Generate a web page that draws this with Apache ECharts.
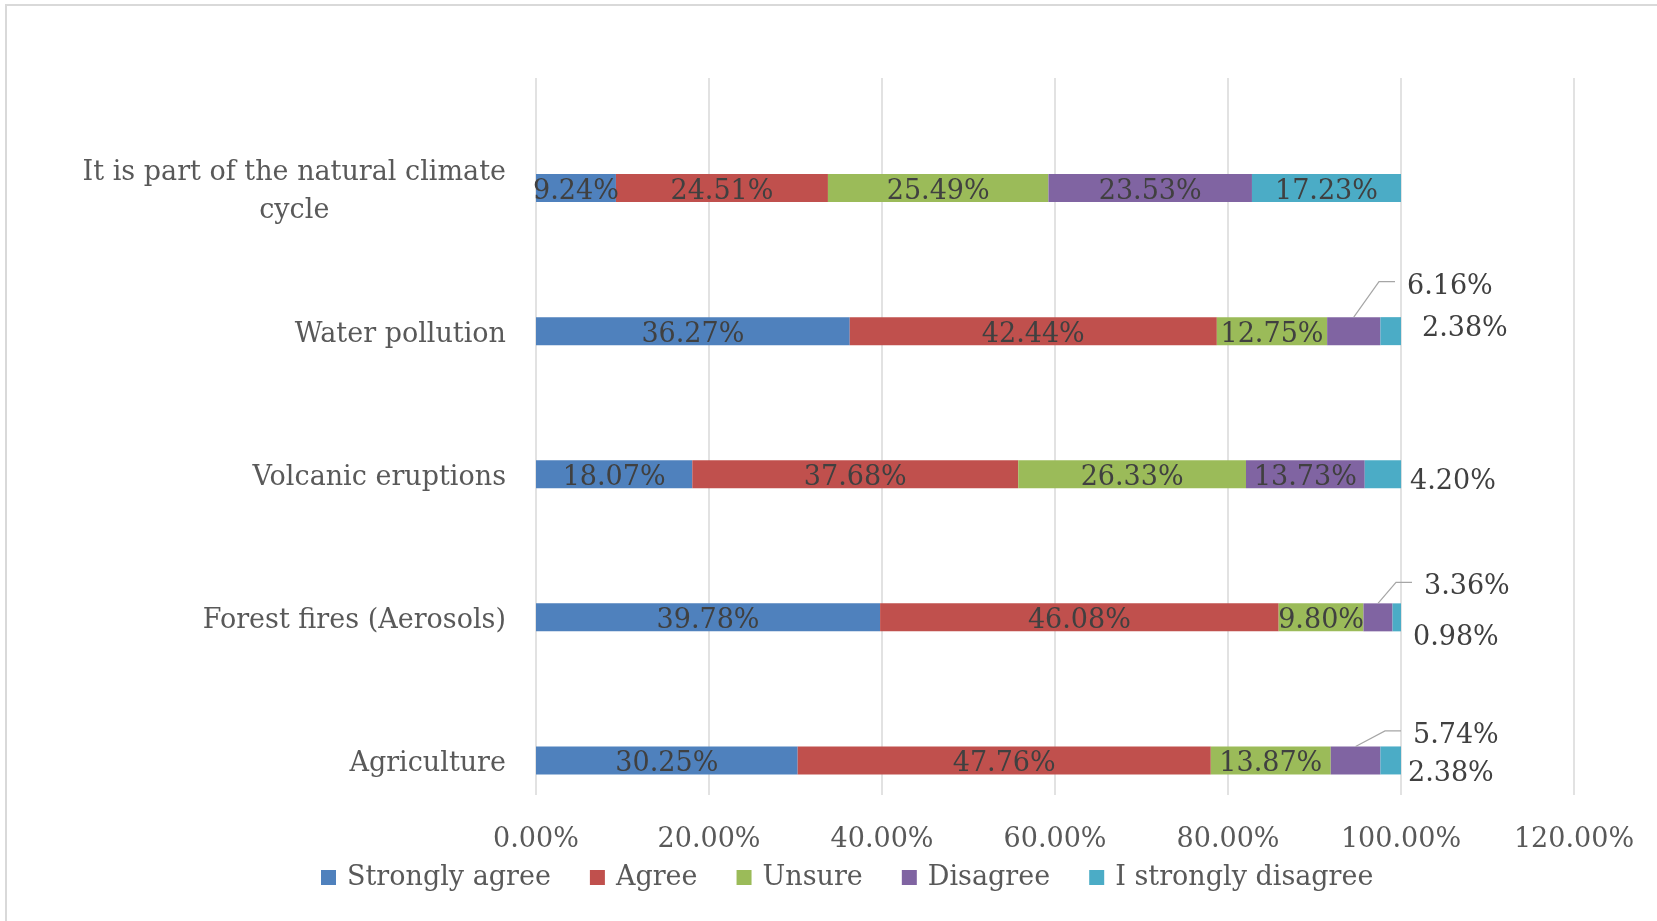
<!DOCTYPE html>
<html>
<head>
<meta charset="utf-8">
<script src="https://cdn.jsdelivr.net/npm/echarts@6/dist/echarts.min.js"></script>
<style>
  html, body { margin: 0; padding: 0; background: #ffffff; }
  #chart { width: 1657px; height: 921px; }
</style>
</head>
<body>
<div id="chart"></div>
<script>
// Survey answers per cause, in percent (stacked to 100%)
const categories = [
  'Agriculture',
  'Forest fires (Aerosols)',
  'Volcanic eruptions',
  'Water pollution',
  'It is part of the natural climate\ncycle'
];
const seriesNames = ['Strongly agree', 'Agree', 'Unsure', 'Disagree', 'I strongly disagree'];
const stronglyAgree    = [30.25, 39.78, 18.07, 36.27, 9.24];
const agree            = [47.76, 46.08, 37.68, 42.44, 24.51];
const unsure           = [13.87, 9.80, 26.33, 12.75, 25.49];
const disagree         = [5.74, 3.36, 13.73, 6.16, 23.53];
const stronglyDisagree = [2.38, 0.98, 4.20, 2.38, 17.23];
const xTicks = [0, 20, 40, 60, 80, 100, 120];

const seriesData = [stronglyAgree, agree, unsure, disagree, stronglyDisagree];
const colors = ['#4F81BD', '#C0504D', '#9BBB59', '#8064A2', '#4BACC6'];

const FONT = "'DejaVu Serif', 'Liberation Serif', serif";
const BAR_WIDTH = 28;
const INSIDE_SHIFT = 4;

// Labels of thin segments sit outside the bar end:
// key "series-row" -> [dx from row end, dy from bar centre, draw leader line]
const outsideLabels = {
  '3-3': [6, -44.5, true],
  '4-3': [21, -2.5],
  '4-2': [9, 7.5],
  '3-1': [23, -30, true],
  '4-1': [12, 21],
  '3-0': [12, -24.5, true],
  '4-0': [7, 13.5]
};

function rowTotal(d) {
  let t = 0;
  for (let j = 0; j < seriesData.length; j++) t += seriesData[j][d];
  return t;
}

function pct(v) { return v.toFixed(2) + '%'; }

const chart = echarts.init(document.getElementById('chart'), null, { renderer: 'canvas' });

const option = {
  backgroundColor: '#ffffff',
  animation: false,
  textStyle: { fontFamily: FONT },
  grid: [
    { left: 536, right: 83, top: 116.5, bottom: 89 },
    { left: 536, right: 83, top: 78, bottom: 126 }
  ],
  legend: {
    data: seriesNames,
    left: 321,
    top: 864,
    padding: 0,
    icon: 'rect',
    itemWidth: 15,
    itemHeight: 15,
    itemGap: 39,
    selectedMode: false,
    textStyle: { fontFamily: FONT, fontSize: 27, color: '#595959', padding: [0, 0, 0, 6] }
  },
  xAxis: [
    { gridIndex: 0, type: 'value', min: xTicks[0], max: xTicks[xTicks.length - 1], interval: xTicks[1] - xTicks[0], show: false },
    {
      gridIndex: 1, type: 'value',
      min: xTicks[0], max: xTicks[xTicks.length - 1], interval: xTicks[1] - xTicks[0],
      axisLine: { show: false },
      axisTick: { show: false },
      splitLine: { show: true, lineStyle: { color: '#d9d9d9', width: 1.5 } },
      axisLabel: {
        formatter: pct,
        fontFamily: FONT, fontSize: 27, color: '#595959', margin: 31
      }
    }
  ],
  yAxis: [
    {
      gridIndex: 0, type: 'category', data: categories,
      axisLine: { show: false },
      axisTick: { show: false },
      splitLine: { show: false },
      axisLabel: {
        margin: 30,
        padding: [7, 0, 0, 0],
        formatter: function (v) {
          return v.split('\n').map(function (line) { return '{c|' + line + '}'; }).join('\n');
        },
        rich: {
          c: { fontFamily: FONT, fontSize: 27, color: '#595959', align: 'center', lineHeight: 38 }
        }
      }
    },
    { gridIndex: 1, type: 'category', data: categories, show: false }
  ],
  series: seriesData.map(function (d, i) {
    return {
      name: seriesNames[i],
      type: 'bar',
      stack: 'total',
      xAxisIndex: 0,
      yAxisIndex: 0,
      barWidth: BAR_WIDTH,
      data: d,
      itemStyle: { color: colors[i] },
      emphasis: { disabled: true },
      label: {
        show: true,
        position: 'inside',
        formatter: function (p) { return pct(p.value); },
        fontFamily: FONT,
        fontSize: 27,
        color: '#404040'
      },
      labelLayout: function (p) {
        const o = outsideLabels[p.seriesIndex + '-' + p.dataIndex];
        if (!o) return { dy: INSIDE_SHIFT };
        const v = seriesData[p.seriesIndex][p.dataIndex];
        const pxPerUnit = p.rect.width / v;
        let remaining = 0;
        for (let k = p.seriesIndex; k < seriesData.length; k++) remaining += seriesData[k][p.dataIndex];
        const endX = p.rect.x + remaining * pxPerUnit;
        return {
          x: endX + o[0],
          y: p.rect.y + p.rect.height / 2 + o[1],
          align: 'left',
          verticalAlign: 'middle'
        };
      }
    };
  })
};

chart.setOption(option);

// Frame round the chart area and leader lines to the moved labels
const graphics = [{
  type: 'rect', id: 'frame', silent: true, z: -1,
  shape: { x: 6, y: 5, width: 1700, height: 1000 },
  style: { fill: null, stroke: '#d9d9d9', lineWidth: 2 }
}];

Object.keys(outsideLabels).forEach(function (key) {
  const o = outsideLabels[key];
  if (!o[2]) return;
  const parts = key.split('-').map(Number);
  const s = parts[0], d = parts[1];
  let before = 0;
  for (let j = 0; j < s; j++) before += seriesData[j][d];
  const mid = chart.convertToPixel({ gridIndex: 0 }, [before + seriesData[s][d] / 2, d]);
  const end = chart.convertToPixel({ gridIndex: 0 }, [rowTotal(d), d]);
  const lx = end[0] + o[0];
  const ly = end[1] + o[1] - 5;
  graphics.push({
    type: 'polyline', id: 'leader-' + key, silent: true, z: 10,
    shape: { points: [[mid[0], mid[1] - BAR_WIDTH / 2], [lx - 28, ly], [lx - 12, ly]] },
    style: { fill: null, stroke: '#a6a6a6', lineWidth: 1.2 }
  });
});

chart.setOption({ graphic: graphics });
</script>
</body>
</html>
